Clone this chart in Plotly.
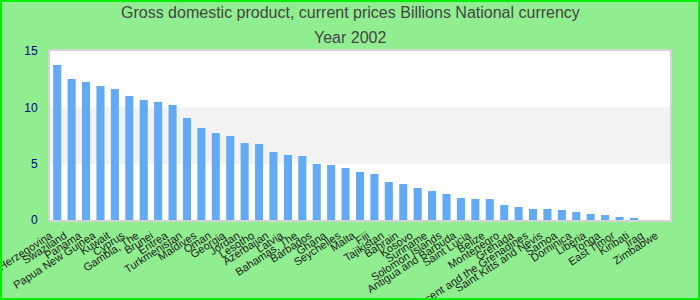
import plotly.graph_objects as go

countries = [
    "Bosnia and Herzegovina", "Swaziland", "Panama", "Papua New Guinea", "Kuwait",
    "Cyprus", "Gambia, The", "Brunei", "Eritrea", "Turkmenistan", "Maldives", "Oman",
    "Georgia", "Jordan", "Lesotho", "Azerbaijan", "Latvia", "Bahamas, The", "Barbados",
    "Ghana", "Seychelles", "Malta", "Fiji", "Tajikistan", "Bahrain", "Kosovo",
    "Suriname", "Solomon Islands", "Antigua and Barbuda", "Saint Lucia", "Belize",
    "Montenegro", "Grenada", "Saint Vincent and the Grenadines", "Saint Kitts and Nevis",
    "Samoa", "Dominica", "Liberia", "Tonga", "East Timor", "Kiribati", "Iraq", "Zimbabwe",
]
values = [
    13.76, 12.51, 12.25, 11.89, 11.62, 11.0, 10.65, 10.47, 10.2, 9.05, 8.16, 7.72,
    7.45, 6.83, 6.74, 6.03, 5.77, 5.68, 4.97, 4.88, 4.61, 4.26, 4.08, 3.37, 3.19, 2.84,
    2.57, 2.31, 1.95, 1.86, 1.86, 1.33, 1.15, 0.98, 0.98, 0.89, 0.71, 0.53, 0.44,
    0.27, 0.09, 0.0, 0.0,
]
y_ticks = [0, 5, 10, 15]
band = [5, 10]
title_lines = ["Gross domestic product, current prices Billions National currency", "Year 2002"]

W, H = 700, 300
L, R, T, B = 50, 30, 51, 80
pw, ph = W - L - R, H - T - B

fig = go.Figure(go.Bar(x=countries, y=values, marker_color="#62aaf4", marker_line_width=0))

shapes = [
    dict(type="rect", xref="paper", yref="y", x0=0, x1=1, y0=band[0], y1=band[1],
         fillcolor="#f2f2f2", line_width=0, layer="below"),
    dict(type="rect", xref="paper", yref="paper",
         x0=(-L + 1) / pw, x1=(W - L - 1) / pw,
         y0=(-B + 1) / ph, y1=1 + (T - 1) / ph,
         line=dict(color="#00ee00", width=2), fillcolor="rgba(0,0,0,0)", layer="above"),
]

annotations = []
for txt, ypix in zip(title_lines, [13, 37]):
    annotations.append(dict(
        text=txt, xref="paper", yref="paper", x=(W / 2 - L) / pw, y=(H - B - ypix) / ph,
        xanchor="center", yanchor="middle", showarrow=False,
        font=dict(family="Liberation Sans, Arial", size=16, color="#444444")))

fig.update_layout(
    width=W, height=H,
    margin=dict(l=L, r=R, t=T, b=B),
    paper_bgcolor="#90ee90",
    plot_bgcolor="white",
    bargap=0.44,
    showlegend=False,
    shapes=shapes,
    annotations=annotations,
    font=dict(family="Liberation Sans, Arial"),
)
fig.update_xaxes(tickangle=-33, tickfont=dict(size=11, color="#222222"),
                 showgrid=False, showline=True, linecolor="#d3d3d3", linewidth=2, mirror=True,
                 ticks="outside", ticklen=3, tickcolor="rgba(0,0,0,0)", ticklabelshift=-7,
                 automargin=False)
fig.update_yaxes(range=[0, 15], tickvals=y_ticks, tickfont=dict(size=12, color="#00008b"),
                 showgrid=False, zeroline=False, showline=True, linecolor="#d3d3d3",
                 linewidth=2, mirror=True, ticks="outside", ticklen=8, tickcolor="rgba(0,0,0,0)",
                 automargin=False)

fig.write_html("out.html")
